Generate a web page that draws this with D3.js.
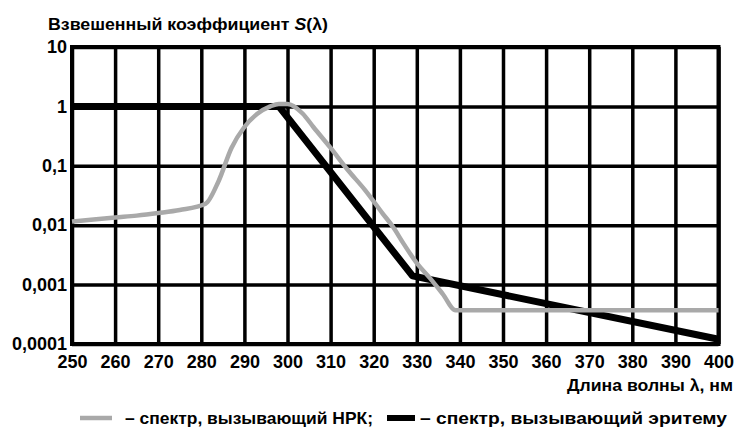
<!DOCTYPE html>
<html>
<head>
<meta charset="utf-8">
<script src="https://cdn.jsdelivr.net/npm/d3@7"></script>
<style>
  body { margin: 0; background: #fff; }
  svg text { font-family: "Liberation Sans", Arial, sans-serif; font-weight: bold; fill: #000; }
</style>
</head>
<body>
<div id="chart"></div>
<script>
// wavelengths for the x ticks, nm
const xTicks = [250, 260, 270, 280, 290, 300, 310, 320, 330, 340, 350, 360, 370, 380, 390, 400];
const yTicks = [0.0001, 0.001, 0.01, 0.1, 1, 10];
const yTickLabels = ['0,0001', '0,001', '0,01', '0,1', '1', '10'];

// spectrum causing NRK (grey curve)
const nrkWave = [250, 255, 260, 265, 270, 275, 281, 284, 287, 290, 293, 296, 298, 300, 303.5, 306, 310, 314, 318, 322, 324.5, 327, 330, 333, 336, 339, 345, 400];
const nrkValue = [0.0115, 0.0125, 0.0135, 0.0145, 0.016, 0.018, 0.023, 0.055, 0.2, 0.45, 0.75, 1.0, 1.1, 1.1, 0.76, 0.45, 0.2, 0.085, 0.039, 0.016, 0.0093, 0.0048, 0.0023, 0.0013, 0.0007, 0.00037, 0.00037, 0.00037];

// spectrum causing erythema (black curve)
const eryWave = [250, 298, 329, 400];
const eryValue = [1, 1, 0.0014, 0.00012];

const width = 735, height = 429;
const plot = { left: 72, right: 718.5, top: 47, bottom: 344 };

const svg = d3.select('#chart').append('svg')
  .attr('width', width)
  .attr('height', height);

const x = d3.scaleLinear().domain([250, 400]).range([plot.left, plot.right]);
const y = d3.scaleLog().domain([0.0001, 10]).range([plot.bottom, plot.top]);

// vertical grid + x labels
const xAxis = svg.append('g')
  .attr('transform', `translate(0,${plot.bottom})`)
  .call(d3.axisBottom(x).tickValues(xTicks).tickSize(-(plot.bottom - plot.top)).tickPadding(7).tickFormat(d3.format('d')));
xAxis.select('.domain').remove();
xAxis.selectAll('line').attr('stroke', '#000').attr('stroke-width', 3.5);
xAxis.selectAll('text').style('font-size', '18px').attr('dy', '0.95em');

// horizontal grid + y labels
const yAxis = svg.append('g')
  .attr('transform', `translate(${plot.left},0)`)
  .call(d3.axisLeft(y).tickValues(yTicks).tickSize(-(plot.right - plot.left)).tickPadding(5)
    .tickFormat((d, i) => yTickLabels[i]));
yAxis.select('.domain').remove();
yAxis.selectAll('line').attr('stroke', '#000').attr('stroke-width', 3.5);
yAxis.selectAll('text').style('font-size', '18px');

// frame
svg.append('rect')
  .attr('x', plot.left).attr('y', plot.top)
  .attr('width', plot.right - plot.left).attr('height', plot.bottom - plot.top)
  .attr('fill', 'none').attr('stroke', '#000').attr('stroke-width', 4);

const line = d3.line().x(d => x(d[0])).y(d => y(d[1]));

svg.append('path')
  .datum(d3.zip(eryWave, eryValue))
  .attr('fill', 'none')
  .attr('stroke', '#000')
  .attr('stroke-width', 7)
  .attr('stroke-linejoin', 'round')
  .attr('d', line);

svg.append('path')
  .datum(d3.zip(nrkWave, nrkValue))
  .attr('fill', 'none')
  .attr('stroke', '#a9a9a9')
  .attr('stroke-width', 4.5)
  .attr('stroke-linejoin', 'round')
  .attr('d', line.curve(d3.curveMonotoneX));

// titles
const title = svg.append('text')
  .attr('x', 48).attr('y', 30)
  .attr('textLength', 280).attr('lengthAdjust', 'spacingAndGlyphs')
  .style('font-size', '16px');
title.append('tspan').text('Взвешенный коэффициент ');
title.append('tspan').style('font-style', 'italic').text('S');
title.append('tspan').text('(λ)');

svg.append('text')
  .attr('x', 733).attr('y', 391)
  .attr('text-anchor', 'end')
  .attr('textLength', 166).attr('lengthAdjust', 'spacingAndGlyphs')
  .style('font-size', '17px')
  .text('Длина волны λ, нм');

// legend
svg.append('line')
  .attr('x1', 80).attr('x2', 112).attr('y1', 418).attr('y2', 418)
  .attr('stroke', '#a9a9a9').attr('stroke-width', 4.5);
svg.append('text')
  .attr('x', 125).attr('y', 424)
  .attr('textLength', 248).attr('lengthAdjust', 'spacingAndGlyphs')
  .style('font-size', '17px')
  .text('– спектр, вызывающий НРК;');
svg.append('line')
  .attr('x1', 387).attr('x2', 415).attr('y1', 418).attr('y2', 418)
  .attr('stroke', '#000').attr('stroke-width', 6);
svg.append('text')
  .attr('x', 420).attr('y', 424)
  .attr('textLength', 307).attr('lengthAdjust', 'spacingAndGlyphs')
  .style('font-size', '17px')
  .text('– спектр, вызывающий эритему');
</script>
</body>
</html>
